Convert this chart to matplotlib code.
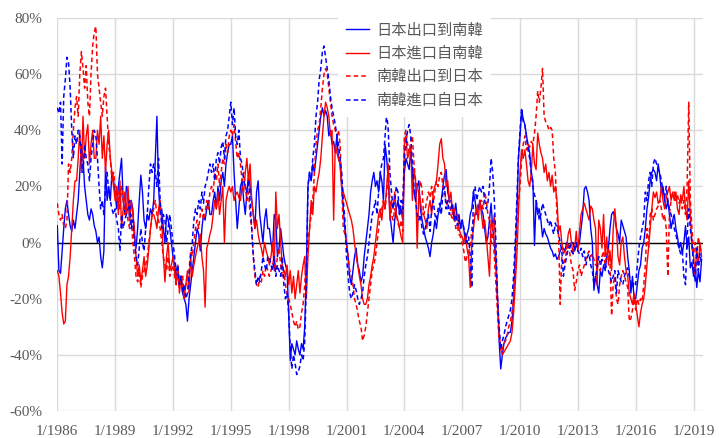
import matplotlib.pyplot as plt
from matplotlib.font_manager import FontProperties
from matplotlib.ticker import PercentFormatter
import numpy as np

plt.rcParams['axes.unicode_minus'] = False

# 月資料 1/1986 - 6/2019, 年增率 (%)
labels = ['日本出口到南韓', '日本進口自南韓', '南韓出口到日本', '南韓進口自日本']
tick_labels = ['1/1986', '1/1989', '1/1992', '1/1995', '1/1998', '1/2001',
               '1/2004', '1/2007', '1/2010', '1/2013', '1/2016', '1/2019']

# 日本出口到南韓 (藍實線)
jp_exp = [
    6, -10, -11, -3, 5, 12, 15, 10, 6, 4, 8, 5,            # 1986
    10, 15, 25, 35, 30, 20, 15, 10, 8, 12, 10, 6,          # 1987
    4, 0, 2, -5, -9, -3, 27, 15, 20, 15, 25, 22,           # 1988
    18, 12, 20, 25, 30, 15, 10, 20, 18, 8, 15, 12,         # 1989
    2, -2, 5, 15, 24, 18, 8, 5, 10, 8, 12, 10,             # 1990
    15, 30, 45, 20, 10, 12, 5, 0, 10, 8, 5, 0,             # 1991
    -5, -8, -12, -10, -15, -12, -18, -20, -22, -28, -20, -15,  # 1992
    -10, -5, 0, 5, 3, -3, 5, 10, 8, 12, 15, 10,            # 1993
    10, 15, 18, 12, 20, 15, 22, 25, 20, 28, 32, 35,        # 1994
    35, 38, 25, 15, 5, 12, 20, 22, 15, 10, 18, 24,         # 1995
    20, 15, 10, 5, 18, 22, 10, 5, 0, 8, 12, 5,             # 1996
    5, 0, -3, 10, 8, -5, -2, 5, 0, -5, -8, -10,            # 1997
    -25, -42, -36, -38, -40, -35, -38, -40, -36, -38, -30, -10,  # 1998
    20, 25, 22, 28, 25, 30, 35, 40, 45, 48, 45, 47,        # 1999
    45, 38, 40, 35, 36, 32, 38, 30, 28, 20, 12, 5,         # 2000
    0, -5, -12, -15, -10, -5, -2, -8, -10, -14, -12, -5,   # 2001
    0, 5, 10, 18, 22, 25, 20, 22, 18, 25, 22, 15,          # 2002
    35, 30, 22, 10, 5, 0, 8, 12, 15, 10, 12, 8,            # 2003
    25, 30, 28, 26, 33, 25, 18, 15, 20, 22, 12, 8,         # 2004
    5, 2, 0, -2, -5, 0, 3, 8, 5, 10, 12, 15,               # 2005
    20, 24, 26, 18, 15, 15, 12, 10, 14, 8, 10, 5,          # 2006
    8, 5, 0, 3, 5, 10, 12, 18, 15, 10, 12, 15,             # 2007
    12, 10, 5, 0, 2, 8, 14, 5, 0, -8, -20, -35,            # 2008
    -45, -40, -36, -34, -33, -32, -32, -28, -20, -5, 10, 30,  # 2009
    38, 47, 44, 42, 38, 35, 32, 25, 22, -1, 15, 10,        # 2010
    12, 8, 2, 5, 3, 2, 0, -2, -3, -5, -4, -6,              # 2011
    -5, -3, -2, -2, -3, 0, -1, -2, 0, 0, -3, -1,           # 2012
    -2, 0, 5, 10, 19, 20, 18, 15, 5, 0, -17, -12,          # 2013
    -15, -18, -10, -12, -8, -10, -5, -2, 5, 10, 11, 9,     # 2014
    5, 3, 0, 8, 6, 4, 2, -5, -10, -18, -12, -20,           # 2015
    -20, -15, -10, -8, -2, 0, 5, 12, 16, 22, 25, 26,       # 2016
    25, 22, 28, 24, 18, 20, 15, 12, 15, 10, 5, 8,          # 2017
    10, 5, 2, -2, 0, -4, 0, 6, -2, 2, -9, -7,              # 2018
    -12, -8, -16, -10, -14, -6,                            # 2019
]

# 日本進口自南韓 (紅實線)
jp_imp = [
    -10, -12, -18, -25, -29, -28, -15, -12, -5, 5, 15, 22,
    22, 30, 40, 25, 45, 30, 38, 42, 28, 35, 40, 30,
    30, 40, 35, 45, 30, 38, 25, 35, 40, 30, 25, 20,
    15, 20, 10, 22, 5, 12, 18, 10, 20, 8, 15, 10,
    5, -5, -12, -8, -14, -10, -5, -12, -8, -2, 5, 10,
    10, 8, 5, 12, 15, 8, -5, -14, -5, 0, -10, -8,
    -5, -10, -15, -8, -18, -12, -16, -20, -15, -10, -18, -5,
    -12, -8, -5, -2, 0, 3, -5, -10, -23, -2, 0, 3,
    5, 10, 15, 12, 18, 10, 15, 20, 0, 15, 18, 20,
    18, 20, 15, 17, 18, 16, 15, 20, 18, 25, 30, 22,
    28, 15, 10, 5, 8, 3, 0, -2, -5, 0, -3, -5,
    -8, -5, 0, -10, 18, 5, 10, 0, -8, -10, -12, -8,
    -15, -10, -18, -12, -20, -15, -10, -18, -12, -8, -5, -20,
    -5, 5, 15, 10, 20, 18, 22, 25, 30, 38, 45, 50,
    48, 45, 38, 40, 8, 35, 32, 30, 28, 20, 18, 16,
    14, 12, 10, 8, 5, 0, -5, -8, -12, -15, -20, -22,
    -22, -20, -15, -12, -8, -5, 0, 5, 10, 12, 8, 15,
    12, 20, 28, 8, 15, 12, 18, 10, 8, 5, 2, 0,
    35, 38, 30, 32, 34, 15, 26, 22, -2, 18, 15, 10,
    10, 8, 5, 12, 15, 10, 18, 20, 22, 28, 35, 37,
    30, 28, 20, 22, 15, 18, 10, 12, 8, 10, 5, 3,
    2, 0, 3, -2, -5, -16, 0, 5, 10, 12, 8, 15,
    10, 5, 8, 2, -5, -12, 8, 5, 10, -5, -20, -32,
    -38, -40, -39, -38, -37, -36, -35, -32, -25, -15, -5, 10,
    25, 33, 30, 33, 28, 22, 20, 25, 35, 28, 26, 39,
    35, 32, 30, 25, 28, 22, 25, 20, 24, 18, 20, 15,
    4, 6, 0, -4, -3, -2, 3, 5, 0, -4, -2, 4,
    -3, 4, 10, 12, 14, 12, 10, 8, 13, 12, 8, 5,
    -15, 8, 5, -2, 10, -5, 2, -8, -3, -10, 5, 12,
    5, -5, -8, 0, 2, -5, -10, -12, -18, -20, -22, -18,
    -22, -26, -30, -25, -22, -20, -15, -8, -2, 5, 12, 18,
    16, 18, 14, 15, 20, 15, 12, 16, 18, 20, 15, 18,
    15, 18, 12, 10, 17, 15, 20, 12, 8, 22, 10, -2,
    -5, -12, -2, -8, 0, -5,
]

# 南韓出口到日本 (紅虛線)
kr_exp = [
    14, 10, 8, 10, 6, 5, 8, 28, 25, 30, 40, 48,
    52, 45, 60, 68, 62, 55, 63, 50, 45, 60, 70, 75,
    77, 60, 55, 50, 45, 52, 55, 45, 35, 30, 22, 25,
    20, 15, 18, 12, 20, 15, 10, 12, 8, 5, 10, 0,
    -5, -12, -14, -10, -16, -12, -10, -8, -5, 0, 5, 10,
    12, 15, 10, 8, 5, 0, -5, -8, -10, -5, -12, -10,
    -8, -12, -15, -10, -16, -14, -12, -18, -15, -14, -10, -3,
    -5, 0, 5, 8, 5, 10, 12, 8, 10, 15, 12, 18,
    20, 18, 25, 22, 28, 20, 25, 30, 28, 35, 32, 38,
    40, 38, 42, 36, 30, 32, 28, 22, 25, 20, 15, 18,
    10, 5, -5, -12, -15, -16, -12, -14, -10, -12, -8, -10,
    -12, -10, -8, -5, -10, -5, -2, -8, -12, -10, -15, -18,
    -20, -22, -25, -28, -30, -28, -31, -30, -25, -22, -15, -5,
    0, 5, 10, 15, 25, 35, 40, 42, 48, 55, 60, 62,
    60, 55, 50, 45, 42, 40, 38, 40, 35, 20, 5, 3,
    0, -5, -10, -12, -15, -20, -22, -25, -28, -30, -35, -33,
    -30, -25, -20, -15, -10, -8, -5, 0, 5, 10, 12, 15,
    12, 18, 25, 15, 10, 8, 12, 10, 7, 5, 8, 4,
    38, 40, 35, 32, 36, 38, 28, 22, 20, 18, 22, 19,
    10, 12, 15, 18, 16, 20, 14, 18, 22, 20, 24, 25,
    20, 18, 15, 12, 15, 10, 8, 10, 5, 6, 3, 2,
    0, -3, -7, -5, -3, -2, 5, 8, 10, 12, 14, 15,
    15, 12, 18, 15, 10, 8, 0, 5, -5, -15, -25, -35,
    -37, -38, -36, -35, -33, -30, -28, -25, -20, -10, 5, 15,
    20, 30, 35, 38, 33, 35, 34, 36, 35, 39, 45, 54,
    50, 55, 62, 45, 43, 42, 40, 41, 40, 30, 25, 10,
    2, -22, -5, -8, -6, -3, 0, -4, -8, -10, -17, -14,
    -10, -8, -12, -10, -8, -6, -4, -3, -5, -4, -6, -8,
    -8, -9, -10, -5, -3, -8, -4, -2, -7, -26, -15, -12,
    -20, -22, -15, -12, -10, -12, -14, -16, -28, -27, -24, -20,
    -24, -20, -22, -20, -21, -15, -8, 5, -2, 10, 12, 8,
    10, 12, 13, 15, 12, 8, 10, 5, -12, 10, 15, 18,
    18, 15, 17, 14, 16, 12, 15, 10, 20, 50, 15, 5,
    -4, 0, -5, 2, -2, -3,
]

# 南韓進口自日本 (藍虛線)
kr_imp = [
    48, 46, 50, 28, 52, 58, 66, 64, 55, 40, 30, 38,
    35, 40, 38, 30, 25, 35, 30, 28, 22, 30, 35, 40,
    38, 30, 20, 12, 15, 10, 20, 25, 18, 15, 12, 10,
    12, 8, 5, -3, 10, 5, 8, 10, 12, 15, 5, 8,
    0, -5, -8, -2, 5, 0, -3, 5, 10, 20, 28, 25,
    28, 25, 20, 30, 15, 5, 10, 8, 0, 5, 10, 5,
    0, -5, -10, -8, -15, -12, -18, -15, -20, -18, -12, -5,
    0, 8, 12, 10, 15, 12, 18, 14, 20, 22, 25, 28,
    25, 28, 22, 30, 32, 28, 34, 36, 30, 38, 40, 45,
    50, 42, 48, 38, 35, 40, 30, 28, 22, 20, 18, 22,
    15, 5, -5, -10, -15, -12, -14, -10, -5, -8, -10, -5,
    -5, -8, -10, -5, -12, -8, -10, -12, -5, -15, -20, -18,
    -25, -38, -45, -40, -43, -47, -46, -44, -40, -42, -35, -15,
    20, 25, 22, 30, 35, 45, 50, 58, 62, 68, 70, 66,
    62, 58, 52, 48, 45, 42, 38, 35, 30, 25, 15, 8,
    -5, -12, -18, -20, -18, -15, -17, -20, -22, -20, -18, -12,
    -8, -5, 0, 5, 10, 12, 15, 10, 18, 25, 28, 30,
    38, 46, 40, 25, 18, 12, 15, 20, 18, 10, 15, 12,
    30, 35, 40, 42, 38, 28, 20, 15, 10, 8, 10, 5,
    3, 5, 8, 10, 4, 12, 15, 10, 8, 12, 14, 10,
    18, 20, 12, 15, 10, 12, 14, 8, 10, 6, 8, 5,
    8, 5, 3, 0, 2, -5, -16, 18, 20, 15, 18, 20,
    18, 20, 15, 12, 14, 20, 30, 25, 15, 0, -20, -30,
    -38, -35, -33, -30, -28, -26, -24, -20, -12, 0, 15, 30,
    40, 48, 43, 42, 38, 33, 30, 25, 20, 17, 15, 12,
    8, 10, 14, 12, 10, 8, 6, 8, 5, 3, 7, 5,
    3, 0, -3, -12, -8, -5, -2, -1, -3, -4, -2, 0,
    -3, -4, -2, -5, -3, -8, -5, -4, -8, -10, -15, -12,
    -9, -5, -8, -6, -7, -8, -9, -10, -12, -14, -12, -10,
    -18, -10, -12, -14, -15, -12, -10, -9, -12, -14, -16, -14,
    -15, -8, -2, 2, 5, 8, 18, 15, 22, 25, 20, 28,
    30, 28, 26, 25, 22, 18, 16, 20, 15, 12, 10, 8,
    5, 3, 0, -2, -4, -3, -12, -15, 2, 12, 5, 0,
    -8, -14, -2, -10, -4, -8,
]

for s in (jp_exp, jp_imp, kr_exp, kr_imp):
    assert len(s) == 402, len(s)

gray = '#595959'
fig, ax = plt.subplots(figsize=(7.19, 4.38), dpi=100)
fig.subplots_adjust(left=0.0797, right=0.978, top=0.959, bottom=0.0616)

x = np.arange(len(jp_exp))
dash = (0, (3, 2))
ax.plot(x, np.array(jp_exp) / 100, color='#0000ff', lw=1.0, label=labels[0])
ax.plot(x, np.array(jp_imp) / 100, color='#ff0000', lw=1.0, label=labels[1])
ax.plot(x, np.array(kr_exp) / 100, color='#ff0000', lw=1.1, ls=dash, label=labels[2])
ax.plot(x, np.array(kr_imp) / 100, color='#0000ff', lw=1.1, ls=dash, label=labels[3])
ax.axhline(0, color='black', lw=1.0, zorder=1.5)

ax.set_xlim(0, 402)
ax.set_ylim(-0.6, 0.8)
ax.set_yticks(np.arange(-0.6, 0.81, 0.2))
ax.yaxis.set_major_formatter(PercentFormatter(1.0, decimals=0))
ax.set_xticks(np.arange(0, 402, 36))
ax.set_xticklabels(tick_labels)
ax.grid(color='#d9d9d9', lw=1.0)
ax.set_axisbelow(True)
for sp in ax.spines.values():
    sp.set_visible(False)
ax.tick_params(axis='both', length=0, labelcolor=gray, labelsize=11)
ax.tick_params(axis='x', pad=10)
ax.tick_params(axis='y', pad=11)
for t in ax.get_xticklabels() + ax.get_yticklabels():
    t.set_family('Liberation Serif')

leg = ax.legend(loc='upper left', bbox_to_anchor=(338 / 719, 1 - 14 / 438),
                bbox_transform=fig.transFigure, frameon=True, facecolor='white',
                edgecolor='none', framealpha=1, fancybox=False,
                prop=FontProperties(family='Noto Sans CJK TC', size=11),
                labelcolor=gray, handlelength=1.5, handletextpad=0.52,
                labelspacing=0.42, borderpad=0.5, borderaxespad=0)

fig.savefig('out.png', dpi=100)
